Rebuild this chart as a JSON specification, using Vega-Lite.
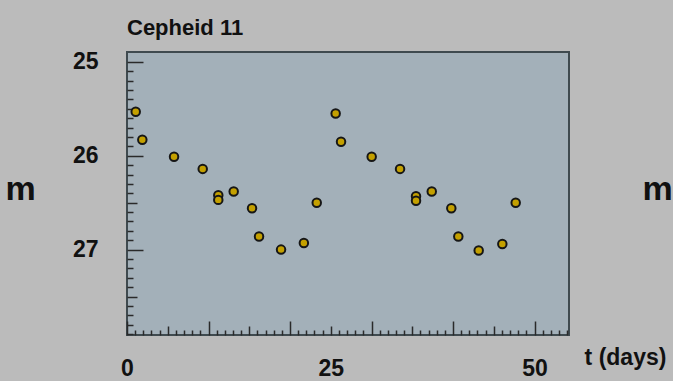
{
  "$schema": "https://vega.github.io/schema/vega-lite/v6.json",
  "width": 442,
  "height": 283,
  "autosize": {"type": "none"},
  "padding": {"left": 127, "top": 52, "right": 104, "bottom": 46},
  "background": "#bbbbbb",
  "title": {
    "text": "Cepheid 11",
    "anchor": "start",
    "frame": "group",
    "font": "Liberation Sans",
    "fontSize": 22,
    "fontWeight": "bold",
    "color": "#111111",
    "baseline": "alphabetic",
    "offset": 19,
    "dy": 25
  },
  "config": {
    "view": {"fill": "#a3b0b9", "stroke": "#3f4a4f", "strokeWidth": 2},
    "axis": {
      "labelFont": "Liberation Sans",
      "labelFontWeight": "bold",
      "labelFontSize": 23,
      "labelColor": "#111111",
      "titleFont": "Liberation Sans",
      "titleFontWeight": "bold",
      "titleColor": "#111111",
      "tickColor": "#2a2a2a",
      "tickWidth": 1.5,
      "domain": false,
      "grid": false
    }
  },
  "data": {
    "values": [
      {"t": 1.07, "m": 25.53},
      {"t": 1.88, "m": 25.83},
      {"t": 5.77, "m": 26.01},
      {"t": 9.29, "m": 26.14},
      {"t": 11.2, "m": 26.42},
      {"t": 11.2, "m": 26.47},
      {"t": 13.09, "m": 26.38},
      {"t": 15.34, "m": 26.56},
      {"t": 16.2, "m": 26.86},
      {"t": 18.9, "m": 27.0},
      {"t": 21.7, "m": 26.93},
      {"t": 23.28, "m": 26.5},
      {"t": 25.6, "m": 25.55},
      {"t": 26.26, "m": 25.85},
      {"t": 30.02, "m": 26.01},
      {"t": 33.5, "m": 26.14},
      {"t": 35.46, "m": 26.43},
      {"t": 35.46, "m": 26.48},
      {"t": 37.39, "m": 26.38},
      {"t": 39.79, "m": 26.56},
      {"t": 40.65, "m": 26.86},
      {"t": 43.15, "m": 27.01},
      {"t": 46.05, "m": 26.94},
      {"t": 47.69, "m": 26.5}
    ]
  },
  "resolve": {"axis": {"y": "independent"}},
  "layer": [
    {
      "mark": {"type": "circle", "size": 72, "fill": "#c4a000", "opacity": 1, "stroke": "#161616", "strokeWidth": 2},
      "encoding": {
        "x": {
          "field": "t",
          "type": "quantitative",
          "scale": {"domain": [0, 54.23], "nice": false, "zero": false},
          "axis": {
            "orient": "bottom",
            "values": [0,1,2,3,4,5,6,7,8,9,10,11,12,13,14,15,16,17,18,19,20,21,22,23,24,25,26,27,28,29,30,31,32,33,34,35,36,37,38,39,40,41,42,43,44,45,46,47,48,49,50,51,52,53,54],
            "tickSize": {"expr": "datum.value % 10 === 0 ? -14 : (datum.value % 5 === 0 ? -9 : -5)"},
            "labelPadding": {"expr": "datum.value % 10 === 0 ? 47 : 42"},
            "labelExpr": "datum.value % 25 === 0 ? format(datum.value, 'd') : ''",
            "labelBaseline": "middle",
            "labelFlush": false,
            "labelOverlap": false,
            "title": "t (days)",
            "titleFontSize": 23,
            "titleAlign": "center",
            "titleBaseline": "middle",
            "titleAnchor": "start",
            "titleX": 498,
            "titleY": 22
          }
        },
        "y": {
          "field": "m",
          "type": "quantitative",
          "scale": {"domain": [24.894, 27.91], "reverse": true, "nice": false, "zero": false},
          "axis": {
            "orient": "left",
            "values": [25,25.1,25.2,25.3,25.4,25.5,25.6,25.7,25.8,25.9,26,26.1,26.2,26.3,26.4,26.5,26.6,26.7,26.8,26.9,27,27.1,27.2,27.3,27.4,27.5,27.6,27.7,27.8,27.9],
            "tickSize": {"expr": "abs(datum.value - round(datum.value)) < 0.01 ? -16 : (abs(datum.value * 2 - round(datum.value * 2)) < 0.01 ? -10 : -6)"},
            "labelPadding": 45,
            "labelExpr": "abs(datum.value - round(datum.value)) < 0.01 ? format(round(datum.value), 'd') : ''",
            "labelBaseline": "middle",
            "labelFlush": false,
            "labelOverlap": false,
            "title": "m",
            "titleFontSize": 34,
            "titleAngle": 0,
            "titleAlign": "center",
            "titleBaseline": "middle",
            "titleAnchor": "start",
            "titleX": -107,
            "titleY": 137
          }
        }
      }
    },
    {
      "mark": {"type": "point", "opacity": 0},
      "encoding": {
        "y": {
          "field": "m",
          "type": "quantitative",
          "axis": {
            "orient": "right",
            "ticks": false,
            "labels": false,
            "domain": false,
            "title": "m",
            "titleFontSize": 34,
            "titleAngle": 0,
            "titleAlign": "center",
            "titleBaseline": "middle",
            "titleAnchor": "start",
            "titleX": 88,
            "titleY": 137
          }
        }
      }
    }
  ]
}
